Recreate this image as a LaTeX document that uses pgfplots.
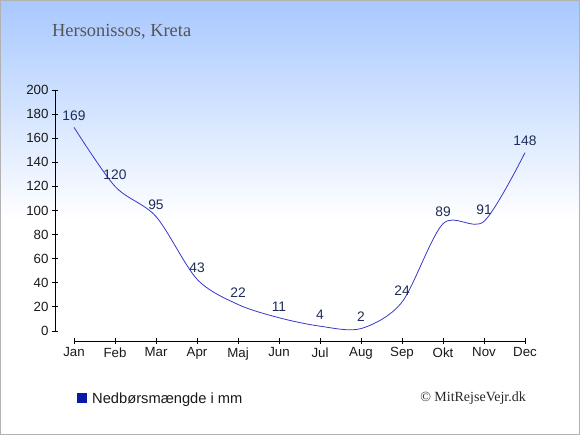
\documentclass[border=0pt]{standalone}
\usepackage{pgfplots}
\pgfplotsset{compat=1.18}
\usepackage{fontspec}
\setmainfont{Liberation Sans}
\newfontfamily\seriffont{Liberation Serif}
\definecolor{bgtop}{RGB}{168,200,255}
\definecolor{linecol}{RGB}{55,55,205}
\definecolor{labcol}{RGB}{30,45,85}
\definecolor{legcol}{RGB}{10,25,170}
\definecolor{titlecol}{RGB}{85,85,85}
\begin{document}
\begin{tikzpicture}
\path[use as bounding box] (0pt,0pt) rectangle (580pt,435pt);
\shade[top color=bgtop, bottom color=white] (0pt,215pt) rectangle (580pt,435pt);
\draw[black!30, line width=1.2pt] (0.6pt,0.6pt) rectangle (579.4pt,434.4pt);
\node[anchor=base west, font=\seriffont\fontsize{18.4}{20}\selectfont, text=titlecol, inner sep=0pt] at (52pt,398pt) {Hersonissos, Kreta};
\node[anchor=base east, font=\seriffont\fontsize{14}{16}\selectfont, text=black!85, inner sep=0pt] at (526pt,33.3pt) {© MitRejseVejr.dk};
\begin{axis}[
  at={(55pt,104pt)}, anchor=south west,
  scale only axis, width=470pt, height=241pt,
  xmin=-0.4634, xmax=11, ymin=0, ymax=200,
  clip=false,
  axis x line=bottom, axis y line=left,
  axis line style={-, line width=0.8pt, black},
  axis x line shift=10pt,
  x axis line style={shorten <=19pt},
  xtick={0,...,11},
  xticklabels={Jan,Feb,Mar,Apr,Maj,Jun,Jul,Aug,Sep,Okt,Nov,Dec},
  ytick={0,20,...,200},
  tick align=center, major tick length=6pt,
  tick style={black, line width=0.8pt},
  ticklabel style={font=\fontsize{13.3}{15}\selectfont, text=black!90},
  /pgf/number format/assume math mode=true,
  nodes near coords,
  nodes near coords style={font=\fontsize{13.8}{15}\selectfont, text=labcol, anchor=south, yshift=3pt},
  legend style={draw=none, fill=none, at={(axis description cs:0.0404,-0.280)}, anchor=west,
    font=\fontsize{14.7}{17}\selectfont, text=black!90},
  legend image code/.code={\fill[legcol, draw=none] (0pt,-5pt) rectangle (9.6pt,5pt); \path[draw=none, fill=none] (0pt,0pt) -- (13pt,0pt);},
]
\addplot[color=linecol, line width=0.8pt, smooth, mark=none] coordinates {
  (0,169) (1,120) (2,95) (3,43) (4,22) (5,11) (6,4) (7,2) (8,24) (9,89) (10,91) (11,148)
};
\addlegendentry{Nedbørsmængde i mm}
\end{axis}
\end{tikzpicture}
\end{document}
